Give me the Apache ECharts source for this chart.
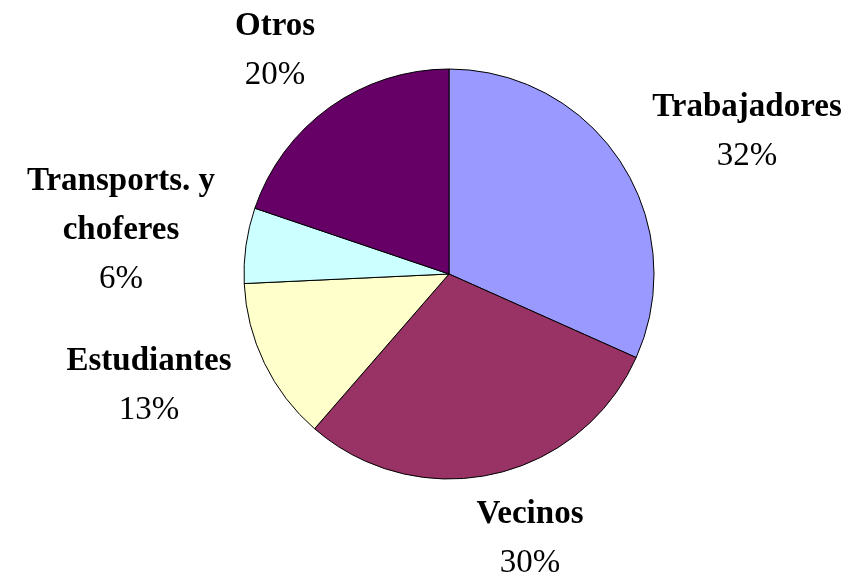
<!DOCTYPE html>
<html>
<head>
<meta charset="utf-8">
<style>
  html, body { margin: 0; padding: 0; background: #ffffff; }
  #chart { width: 860px; height: 573px; }
</style>
<script src="https://cdn.jsdelivr.net/npm/echarts@6/dist/echarts.min.js"></script>
</head>
<body>
<div id="chart"></div>
<script>
// Share of each group (percent)
const categories = ['Trabajadores', 'Vecinos', 'Estudiantes', 'Transports. y\nchoferes', 'Otros'];
const shares = [32, 30, 13, 6, 20];
const sliceColors = ['#9999FF', '#993366', '#FFFFCC', '#CCFFFF', '#660066'];

// Label anchor points (centre of each text block) in pixels
const labelSpots = [
  [747, 132],
  [530, 539],
  [149, 386],
  [121, 230],
  [275, 51]
];

const chart = echarts.init(document.getElementById('chart'), null, { renderer: 'canvas' });

chart.setOption({
  backgroundColor: '#ffffff',
  animation: false,
  series: [{
    type: 'pie',
    center: [449, 274],
    radius: 205,
    startAngle: 90,
    clockwise: true,
    data: categories.map((name, i) => ({
      name: name,
      value: shares[i],
      itemStyle: { color: sliceColors[i] }
    })),
    itemStyle: { borderColor: '#000000', borderWidth: 1 },
    label: {
      show: true,
      position: 'outside',
      overflow: 'none',
      width: 400,
      formatter: p => '{n|' + p.name + '}\n{v|' + p.value + '%}',
      align: 'center',
      rich: {
        n: { fontFamily: 'Liberation Serif', fontWeight: 'bold', fontSize: 33, color: '#000', lineHeight: 49, align: 'center' },
        v: { fontFamily: 'Liberation Serif', fontSize: 33, color: '#000', lineHeight: 49, align: 'center' }
      }
    },
    labelLine: { show: false },
    labelLayout: function (params) {
      const spot = labelSpots[params.dataIndex];
      return {
        x: spot[0],
        y: spot[1],
        align: 'center',
        verticalAlign: 'middle'
      };
    },
    emphasis: { disabled: true }
  }]
});
</script>
</body>
</html>
